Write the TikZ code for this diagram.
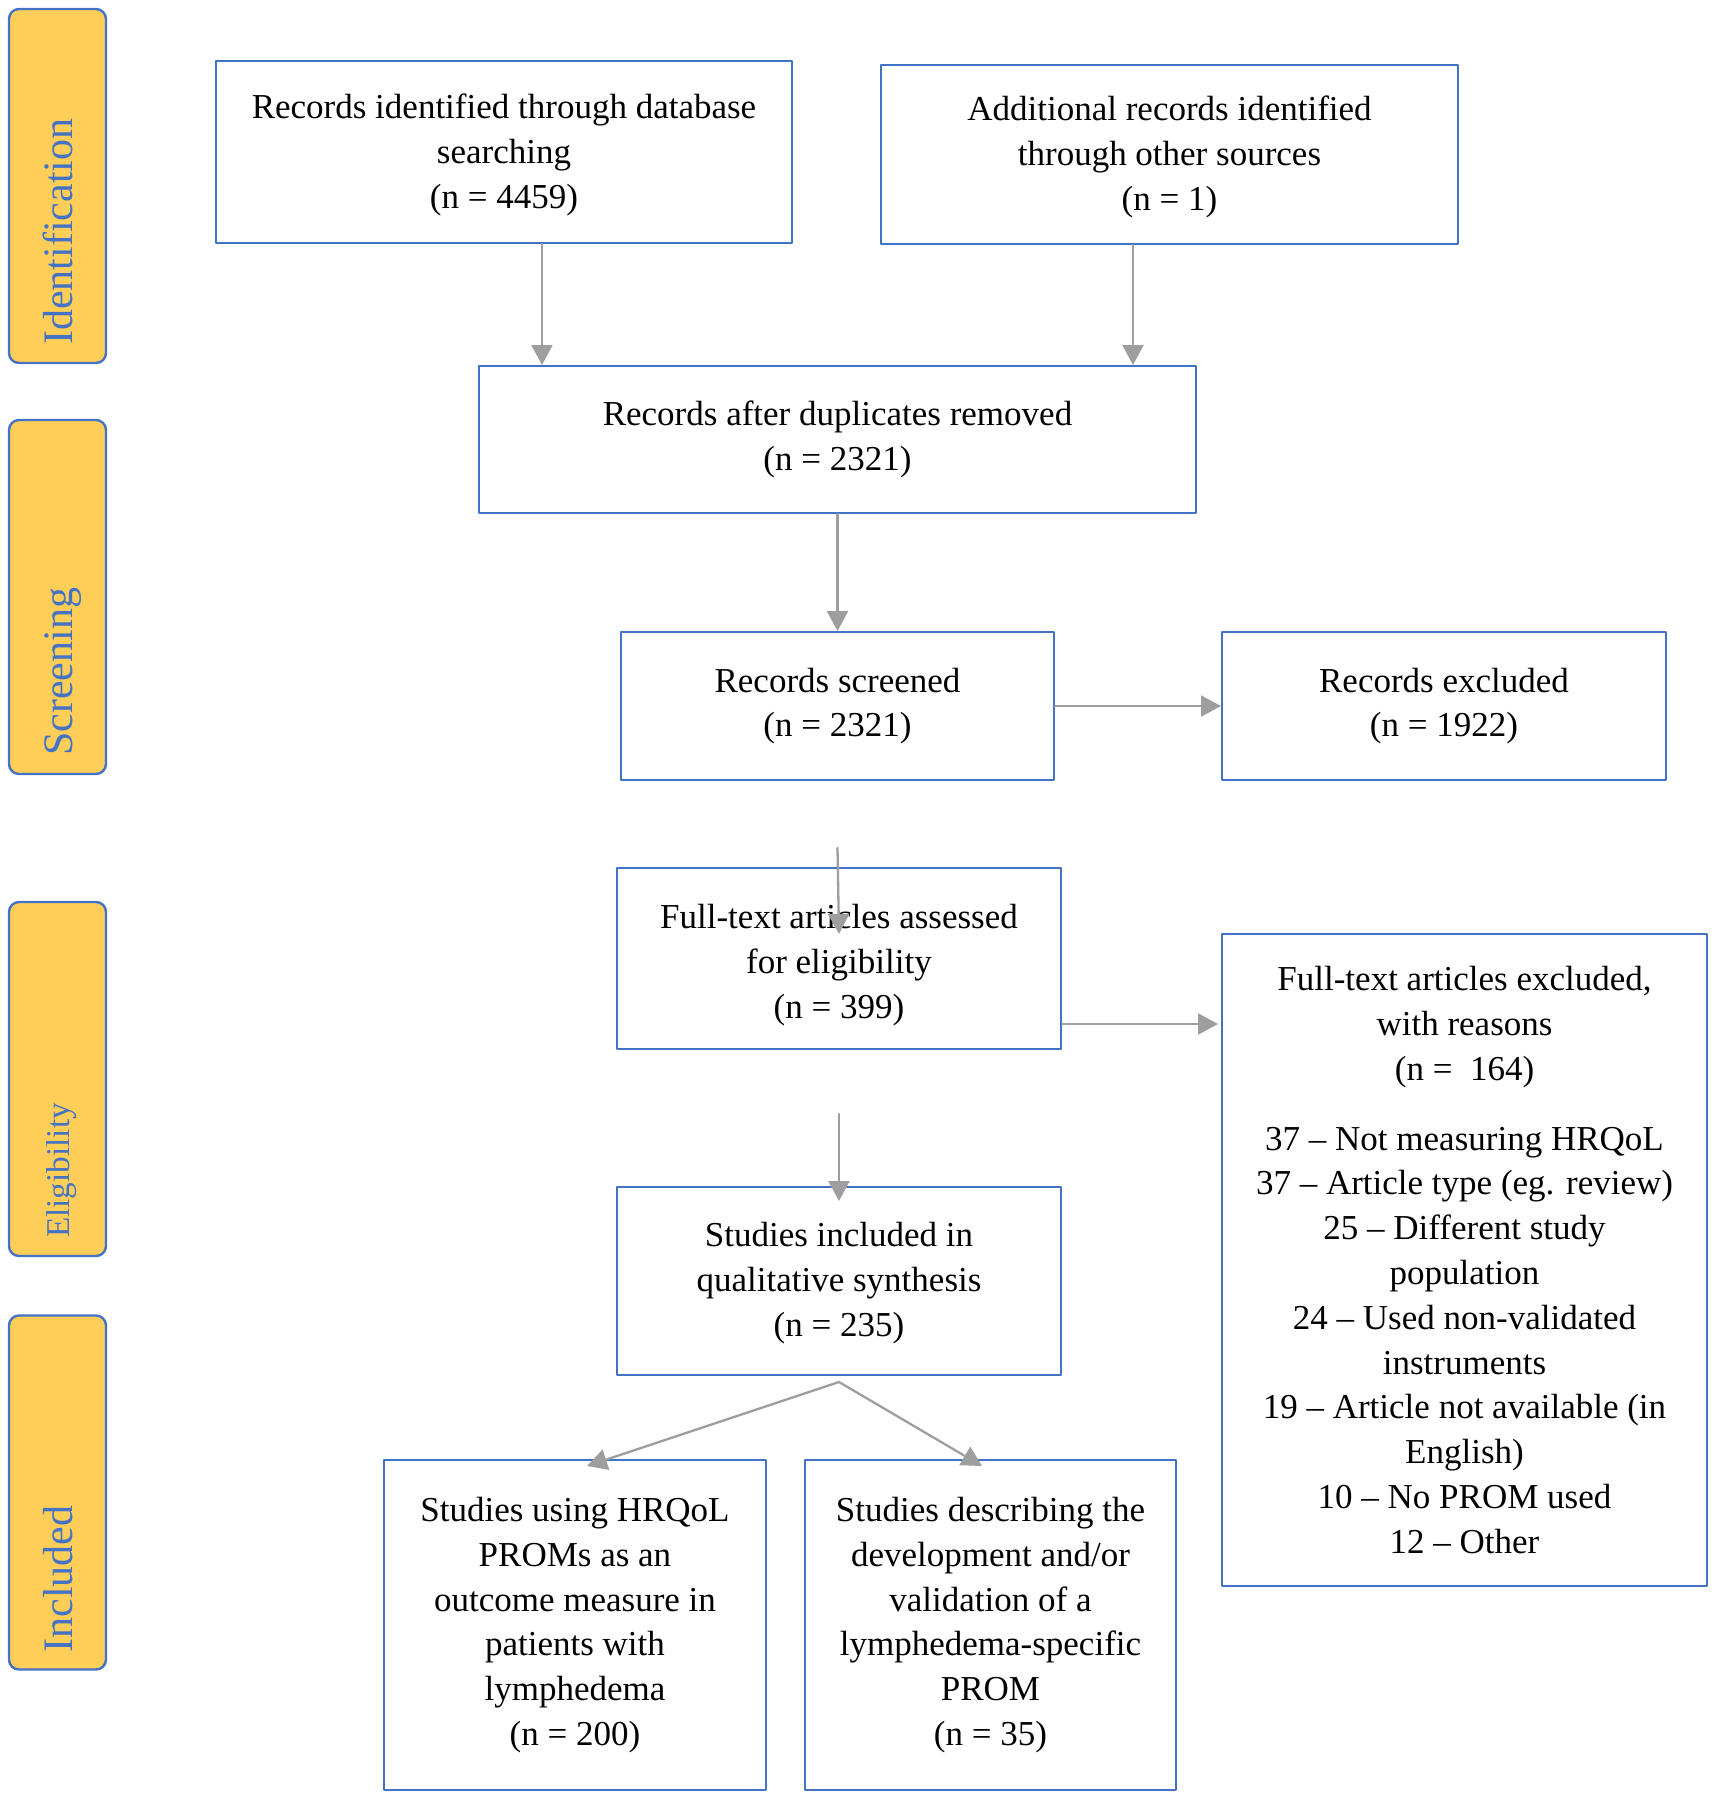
\documentclass[tikz,border=0pt]{standalone}
\usepackage{fontspec}
\setmainfont{Liberation Serif}
\usetikzlibrary{arrows.meta}
\definecolor{boxblue}{HTML}{4472C4}
\definecolor{bargold}{HTML}{FFCE58}
\definecolor{arrgray}{HTML}{9E9E9E}
\tikzset{
  flowbox/.style = {draw = boxblue, line width = 1pt, align = center, inner sep = 0pt,
    font = \fontsize{17.5}{22.4}\selectfont},
  phasebar/.style = {draw = boxblue, fill = bargold, line width = 1.2pt, rounded corners = 5pt,
    minimum width = 48.5pt, minimum height = 177pt},
  phaselbl/.style = {rotate = 90, anchor = base west, inner sep = 0pt, text = boxblue,
    font = \fontsize{21}{25}\selectfont},
  flowarrow/.style = {draw = arrgray, line width = 1.15pt, -{Triangle[length = 10pt, width = 10.5pt]}}
}
\begin{document}
\begin{tikzpicture}[x = 0.5pt, y = -0.5pt, line join = round, line cap = round]
\useasboundingbox (0, 0) rectangle (1717, 1800);

% phase bars on the left
\node[phasebar] (barI) at (57.5, 186) {};
\node[phasebar] (barS) at (57.5, 597) {};
\node[phasebar] (barE) at (57.5, 1079) {};
\node[phasebar] (barN) at (57.5, 1492.5) {};
\node[phaselbl] (lblI) at ([xshift = 7.25pt, yshift = 9.5pt]barI.south) {Identification};
\node[phaselbl] (lblS) at ([xshift = 7.25pt, yshift = 9.5pt]barS.south) {Screening};
\node[phaselbl, font = \fontsize{16.6}{20}\selectfont] (lblE) at ([xshift = 6pt, yshift = 9.5pt]barE.south) {Eligibility};
\node[phaselbl] (lblN) at ([xshift = 7.25pt, yshift = 9pt]barN.south) {Included};

% boxes
\node[flowbox, minimum width = 288pt, minimum height = 91pt] (dbsearch) at (504, 152)
  {\rule{0pt}{15.5pt}Records identified through database\\searching\\(n = 4459)};
\node[flowbox, minimum width = 288.5pt, minimum height = 89.5pt] (othersrc) at (1169.5, 154.5)
  {\rule{0pt}{15pt}Additional records identified\\through other sources\\(n = 1)};
\node[flowbox, minimum width = 358.5pt, minimum height = 73.5pt] (dedup) at (837.5, 439.5)
  {Records after duplicates removed\\(n = 2321)};
\node[flowbox, minimum width = 216.5pt, minimum height = 74pt] (screened) at (837.5, 706)
  {Records screened\\(n = 2321)};
\node[flowbox, minimum width = 222pt, minimum height = 74pt] (scrExcl) at (1444, 706)
  {Records excluded\\(n = 1922)};
\node[flowbox, minimum width = 222pt, minimum height = 90.5pt] (fulltext) at (839, 958.5)
  {\rule{0pt}{19pt}Full-text articles assessed\\for eligibility\\(n = 399)};
\node[flowbox, minimum width = 242.5pt, minimum height = 326pt] (ftExcl) at (1464.5, 1260)
  {Full-text articles excluded,\\with reasons\\(n = ~164)\\[12.5pt]
   37 – Not measuring HRQoL\\37 – Article type (eg. review)\\25 – Different study\\population\\
   24 – Used non-validated\\instruments\\19 – Article not available (in\\English)\\
   10 – No PROM used\\12 – Other};
\node[flowbox, minimum width = 222pt, minimum height = 94pt] (qualsyn) at (839, 1281)
  {\rule{0pt}{14pt}Studies included in\\qualitative synthesis\\(n = 235)};
\node[flowbox, minimum width = 191pt, minimum height = 165pt] (hrqol) at (575, 1625)
  {Studies using HRQoL\\PROMs as an\\outcome measure in\\patients with\\lymphedema\\(n = 200)};
\node[flowbox, minimum width = 185.5pt, minimum height = 165pt] (devval) at (990.5, 1625)
  {Studies describing the\\development and/or\\validation of a\\lymphedema-specific\\PROM\\(n = 35)};

% arrows
\coordinate (dbOut) at ([xshift = 19pt]dbsearch.south);
\coordinate (srcOut) at ([xshift = -18.25pt]othersrc.south);
\draw[flowarrow] (dbOut) -- (dbOut |- dedup.north);
\draw[flowarrow] (srcOut) -- (srcOut |- dedup.north);
\draw[flowarrow] (dedup.south) -- (screened.north);
\draw[flowarrow] (screened.east) -- (scrExcl.west);
\draw[flowarrow] ([yshift = -33.5pt]screened.south) -- ([yshift = -33.5pt]fulltext.north);
\coordinate (ftOut) at ([yshift = -32.75pt]fulltext.east);
\draw[flowarrow, shorten > = 1.5pt] (ftOut) -- (ftOut -| ftExcl.west);
\draw[flowarrow] ([yshift = -32pt]fulltext.south) -- ([yshift = -7.5pt]qualsyn.north);
\coordinate (split) at ([yshift = -3pt]qualsyn.south);
\draw[flowarrow] (split) -- ([xshift = 6pt, yshift = -3.5pt]hrqol.north);
\draw[flowarrow] (split) -- ([xshift = -4.25pt, yshift = -3.5pt]devval.north);
\end{tikzpicture}
\end{document}
